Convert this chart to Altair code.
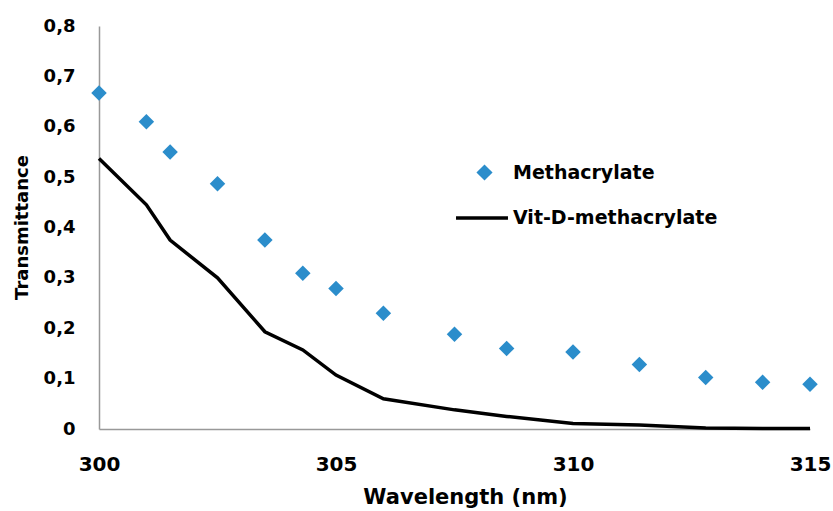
import altair as alt
import pandas as pd

# Methacrylate (diamond markers)
meth_x = [300, 301, 301.5, 302.5, 303.5, 304.3, 305, 306, 307.5, 308.6, 310, 311.4, 312.8, 314, 315]
meth_y = [0.667, 0.61, 0.55, 0.487, 0.375, 0.309, 0.279, 0.23, 0.188, 0.16, 0.153, 0.128, 0.102, 0.093, 0.089]

# Vit-D-methacrylate (black line)
vitd_x = [300, 301, 301.5, 302.5, 303.5, 304.3, 305, 306, 307.5, 308.6, 310, 311.4, 312.8, 314, 315]
vitd_y = [0.537, 0.445, 0.375, 0.30, 0.193, 0.157, 0.107, 0.06, 0.038, 0.025, 0.011, 0.008, 0.002, 0.001, 0.001]

x_ticks = [300, 305, 310, 315]
y_ticks = [0, 0.1, 0.2, 0.3, 0.4, 0.5, 0.6, 0.7, 0.8]

df_m = pd.DataFrame({"wl": meth_x, "t": meth_y, "series": "Methacrylate"})
df_v = pd.DataFrame({"wl": vitd_x, "t": vitd_y, "series2": "Vit-D-methacrylate"})

FONT = "DejaVu Sans"

x_enc = alt.X(
    "wl:Q",
    scale=alt.Scale(domain=[300, 315], nice=False, zero=False),
    axis=alt.Axis(
        values=x_ticks, title="Wavelength (nm)", labelFontSize=20, labelPadding=25,
        labelFlush=False,
        titleFontSize=21, titleX=366, titleY=68, titleAlign="center", titleBaseline="middle",
    ),
)
y_enc = alt.Y(
    "t:Q",
    scale=alt.Scale(domain=[0, 0.8], nice=False),
    axis=alt.Axis(
        values=y_ticks, title="Transmittance", labelFontSize=18, labelPadding=24,
        labelFlush=False,
        labelExpr="datum.value == 0 ? '0' : replace(format(datum.value, '.1f'), '.', ',')",
        titleFontSize=18, titleAngle=-90, titleX=-77, titleY=201, titleAlign="center",
        titleBaseline="middle",
    ),
)

points = alt.Chart(df_m).mark_point(shape="diamond", filled=True, size=240, opacity=1).encode(
    x=x_enc,
    y=y_enc,
    color=alt.Color(
        "series:N",
        scale=alt.Scale(domain=["Methacrylate"], range=["#2B8DCB"]),
        legend=alt.Legend(
            title=None, orient="none", legendX=376, legendY=137, symbolType="diamond",
            symbolSize=260, symbolOpacity=1, symbolStrokeWidth=0, labelOffset=19,
            labelFontSize=19, labelFont=FONT, labelFontWeight="bold", labelColor="black",
            labelLimit=0,
        ),
    ),
)

line = alt.Chart(df_v).mark_line(strokeWidth=3.5).encode(
    x="wl:Q",
    y="t:Q",
    color=alt.Color(
        "series2:N",
        scale=alt.Scale(domain=["Vit-D-methacrylate"], range=["black"]),
        legend=alt.Legend(
            title=None, orient="none", legendX=355, legendY=164, symbolType="stroke",
            symbolSize=2700, symbolStrokeWidth=3.5, labelOffset=3,
            labelFontSize=19, labelFont=FONT, labelFontWeight="bold", labelColor="black",
            labelLimit=0,
        ),
    ),
)

chart = (
    alt.layer(line, points)
    .resolve_scale(color="independent")
    .properties(
        width=711, height=403,
        autosize=alt.AutoSizeParams(type="none"),
        padding={"left": 99, "top": 26, "right": 23, "bottom": 82},
        background="white",
    )
    .configure_view(stroke=None)
    .configure_axis(
        grid=False, ticks=False, domainColor="#999999", domainWidth=1.5,
        labelFont=FONT, labelFontWeight="bold", labelColor="black",
        titleFont=FONT, titleFontWeight="bold", titleColor="black",
    )
)

chart.save("out.html", embed_options={"renderer": "svg", "actions": False})
